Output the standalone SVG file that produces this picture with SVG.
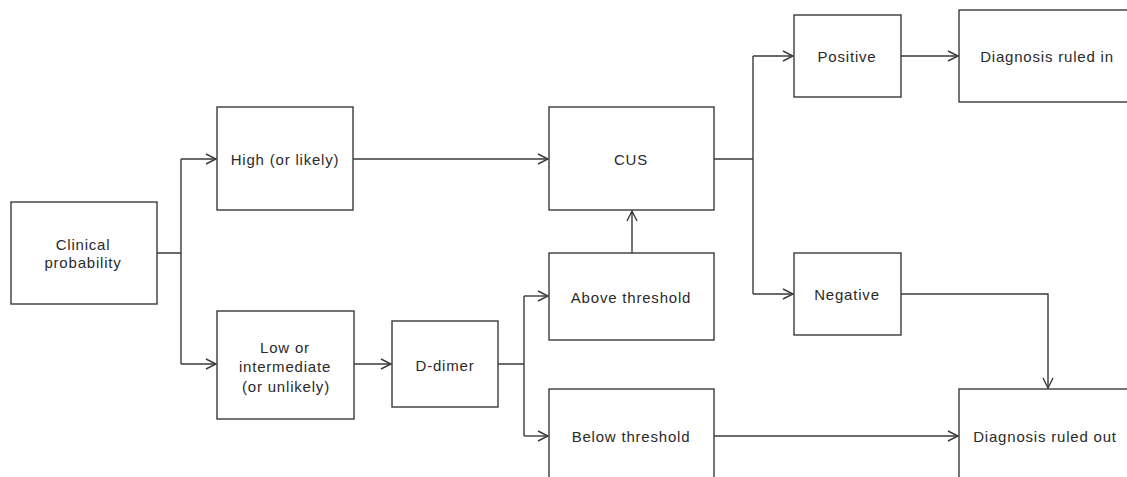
<svg xmlns="http://www.w3.org/2000/svg" width="1127" height="477" viewBox="0 0 1127 477">
<defs>
<style>
.box{fill:#fff;stroke:#3a3a3a;stroke-width:1.4}
.t{font-family:"Liberation Sans",Arial,sans-serif;font-size:15px;fill:#2a2a2a;text-anchor:middle;dominant-baseline:central;letter-spacing:0.8px}
.c{fill:none;stroke:#3a3a3a;stroke-width:1.4}
</style>
<marker id="a" markerWidth="14" markerHeight="14" refX="11" refY="6" orient="auto" markerUnits="userSpaceOnUse">
<path d="M1,1 L11,6 L1,11" fill="none" stroke="#3a3a3a" stroke-width="1.4"/>
</marker>
</defs>
<rect width="1127" height="477" fill="#fff"/>
<g id="connectors">
<path class="c" d="M157,253 H181 M181,159 V364"/>
<path class="c" d="M181,159 H216" marker-end="url(#a)"/>
<path class="c" d="M181,364 H216" marker-end="url(#a)"/>
<path class="c" d="M353,159 H548" marker-end="url(#a)"/>
<path class="c" d="M354,364 H391" marker-end="url(#a)"/>
<path class="c" d="M498,364 H524 M524,296 V436"/>
<path class="c" d="M524,296 H548" marker-end="url(#a)"/>
<path class="c" d="M524,436 H548" marker-end="url(#a)"/>
<path class="c" d="M632,253 V211" marker-end="url(#a)"/>
<path class="c" d="M714,159 H753 M753,56 V294"/>
<path class="c" d="M753,56 H793" marker-end="url(#a)"/>
<path class="c" d="M753,294 H793" marker-end="url(#a)"/>
<path class="c" d="M901,56 H958" marker-end="url(#a)"/>
<path class="c" d="M901,294 H1048 V388" marker-end="url(#a)"/>
<path class="c" d="M714,436 H958" marker-end="url(#a)"/>
</g>
<g id="clinical"><rect class="box" x="11" y="202" width="146" height="102"/><text class="t" x="83" y="244">Clinical</text><text class="t" x="83" y="262">probability</text></g>
<g id="high"><rect class="box" x="217" y="107" width="136" height="103"/><text class="t" x="285" y="159">High (or likely)</text></g>
<g id="low"><rect class="box" x="217" y="311" width="137" height="108"/><text class="t" x="285" y="347">Low or</text><text class="t" x="285" y="366">intermediate</text><text class="t" x="286" y="386">(or unlikely)</text></g>
<g id="ddimer"><rect class="box" x="392" y="321" width="106" height="86"/><text class="t" x="445" y="365">D-dimer</text></g>
<g id="cus"><rect class="box" x="549" y="107" width="165" height="103"/><text class="t" x="631" y="159">CUS</text></g>
<g id="above"><rect class="box" x="549" y="253" width="165" height="87"/><text class="t" x="631" y="297">Above threshold</text></g>
<g id="below"><rect class="box" x="549" y="389" width="165" height="100"/><text class="t" x="631" y="436">Below threshold</text></g>
<g id="positive"><rect class="box" x="794" y="15" width="107" height="82"/><text class="t" x="847" y="56">Positive</text></g>
<g id="negative"><rect class="box" x="794" y="253" width="107" height="82"/><text class="t" x="847" y="294">Negative</text></g>
<g id="ruledin"><rect class="box" x="959" y="10" width="190" height="92"/><text class="t" x="1047" y="56">Diagnosis ruled in</text></g>
<g id="ruledout"><rect class="box" x="959" y="389" width="190" height="100"/><text class="t" x="1045" y="436">Diagnosis ruled out</text></g>
</svg>
